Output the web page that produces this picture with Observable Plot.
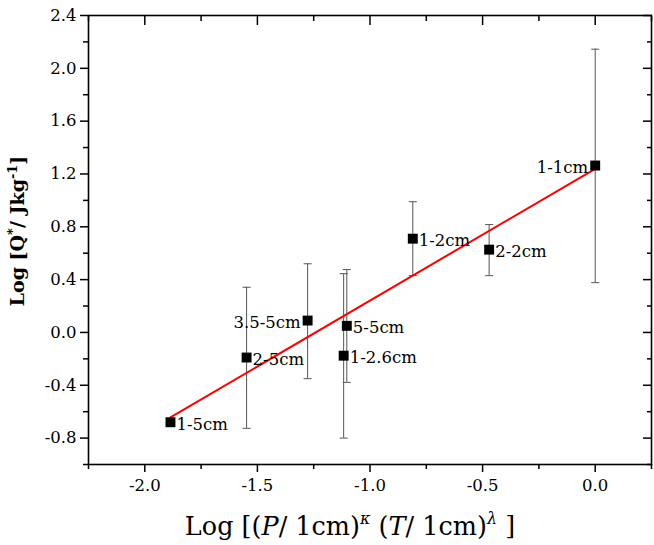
<!DOCTYPE html>
<html>
<head>
<meta charset="utf-8">
<script src="https://cdn.jsdelivr.net/npm/d3@7"></script>
<script src="https://cdn.jsdelivr.net/npm/@observablehq/plot@0.6"></script>
<style>
  body { margin: 0; background: #fff; }
  svg { font-family: "DejaVu Serif", serif; }
</style>
</head>
<body>
<div id="chart"></div>
<script>
// ---- data ----
const names = ["1-5cm", "2-5cm", "3.5-5cm", "5-5cm", "1-2.6cm", "1-2cm", "2-2cm", "1-1cm"];
const xs    = [-1.886, -1.548, -1.277, -1.103, -1.117, -0.81, -0.471, 0.0];
const ys    = [-0.68, -0.19, 0.09, 0.05, -0.176, 0.71, 0.627, 1.264];
const yLow  = [-0.68, -0.726, -0.35, -0.378, -0.80, 0.43, 0.43, 0.377];
const yHigh = [-0.68, 0.342, 0.52, 0.476, 0.445, 0.99, 0.817, 2.145];
const labelSide = ["right", "right", "left", "right", "right", "right", "right", "left"];

const fitX = [-1.886, 0.0];
const fitY = [-0.643, 1.239];

const xMajor = [-2.0, -1.5, -1.0, -0.5, 0.0];
const xMinor = [-2.25, -1.75, -1.25, -0.75, -0.25, 0.25];
const yMajor = [-0.8, -0.4, 0.0, 0.4, 0.8, 1.2, 1.6, 2.0, 2.4];
const yMinor = [-1.0, -0.6, -0.2, 0.2, 0.6, 1.0, 1.4, 1.8, 2.2];

const points = names.map((n, i) => ({name: n, x: xs[i], y: ys[i], lo: yLow[i], hi: yHigh[i], side: labelSide[i]}));
const bars = points.filter(d => d.hi !== d.lo);
const fit = fitX.map((x, i) => ({x, y: fitY[i]}));

const capSymbol = {
  draw(ctx, size) {
    const w = Math.sqrt(size / Math.PI);
    ctx.moveTo(-w, 0);
    ctx.lineTo(w, 0);
  }
};
const fmt = d => d.toFixed(1);

const chart = Plot.plot({
  width: 654,
  height: 545,
  marginLeft: 88,
  marginRight: 3,
  marginTop: 15,
  marginBottom: 81,
  style: {fontFamily: "DejaVu Serif, serif", fontSize: "16px", color: "#000", background: "#fff"},
  x: {domain: [-2.25, 0.25]},
  y: {domain: [-1.0, 2.4]},
  marks: [
    // axes
    Plot.axisX({anchor: "bottom", ticks: xMajor, tickFormat: fmt, tickSize: 8, tickPadding: 7, strokeWidth: 1.5, fontSize: 16.5, label: null}),
    Plot.axisX({anchor: "bottom", ticks: xMinor, tickSize: 5, text: null, strokeWidth: 1.5, label: null}),
    Plot.axisX({anchor: "top", ticks: xMajor, tickSize: -9, text: null, strokeWidth: 1.5, label: null}),
    Plot.axisX({anchor: "top", ticks: xMinor, tickSize: -5, text: null, strokeWidth: 1.5, label: null}),
    Plot.axisY({anchor: "left", ticks: yMajor, tickFormat: fmt, tickSize: 8, tickPadding: 4, strokeWidth: 1.5, fontSize: 16.5, label: null}),
    Plot.axisY({anchor: "left", ticks: yMinor, tickSize: 5, text: null, strokeWidth: 1.5, label: null}),
    Plot.axisY({anchor: "right", ticks: yMajor, tickSize: -9, text: null, strokeWidth: 1.5, label: null}),
    Plot.axisY({anchor: "right", ticks: yMinor, tickSize: -5, text: null, strokeWidth: 1.5, label: null}),
    Plot.frame({stroke: "#000", strokeWidth: 1.6}),
    // error bars
    Plot.ruleX(bars, {x: "x", y1: "lo", y2: "hi", stroke: "#555", strokeWidth: 1}),
    Plot.dot(bars, {x: "x", y: "lo", symbol: capSymbol, r: 4, stroke: "#555", strokeWidth: 1}),
    Plot.dot(bars, {x: "x", y: "hi", symbol: capSymbol, r: 4, stroke: "#555", strokeWidth: 1}),
    // fit line
    Plot.line(fit, {x: "x", y: "y", stroke: "#ff0000", strokeWidth: 2}),
    // points
    Plot.dot(points, {x: "x", y: "y", symbol: "square", r: 5.6, fill: "#000", stroke: null}),
    // labels
    Plot.text(points.filter(d => d.side === "right"), {x: "x", y: "y", text: "name", textAnchor: "start", dx: 6, dy: 2, fontSize: 16.5, fill: "#000"}),
    Plot.text(points.filter(d => d.side === "left"), {x: "x", y: "y", text: "name", textAnchor: "end", dx: -7, dy: 2, fontSize: 16.5, fill: "#000"})
  ]
});

const svg = d3.select(chart);

// y axis title
const yt = svg.append("text")
  .attr("transform", "translate(24,231) rotate(-90)")
  .attr("text-anchor", "middle")
  .attr("font-size", 19)
  .attr("font-weight", "bold")
  .attr("fill", "#000");
yt.append("tspan").text("Log [Q");
yt.append("tspan").attr("dy", -7).attr("font-size", 13).text("*");
yt.append("tspan").attr("dy", 7).text("/ Jkg");
yt.append("tspan").attr("dy", -7).attr("font-size", 13).text("-1");
yt.append("tspan").attr("dy", 7).text("]");

// x axis title
const xt = svg.append("text")
  .attr("x", 350)
  .attr("y", 535)
  .attr("text-anchor", "middle")
  .attr("font-size", 25.5)
  .attr("fill", "#000");
xt.append("tspan").text("Log [(");
xt.append("tspan").attr("font-style", "italic").text("P");
xt.append("tspan").text("/ 1cm)");
xt.append("tspan").attr("dy", -11).attr("font-size", 16).attr("font-style", "italic").text("κ");
xt.append("tspan").attr("dy", 11).text(" (");
xt.append("tspan").attr("font-style", "italic").text("T");
xt.append("tspan").text("/ 1cm)");
xt.append("tspan").attr("dy", -11).attr("font-size", 16).attr("font-style", "italic").text("λ");
xt.append("tspan").attr("dy", 11).text(" ]");

document.getElementById("chart").appendChild(chart);
</script>
</body>
</html>
